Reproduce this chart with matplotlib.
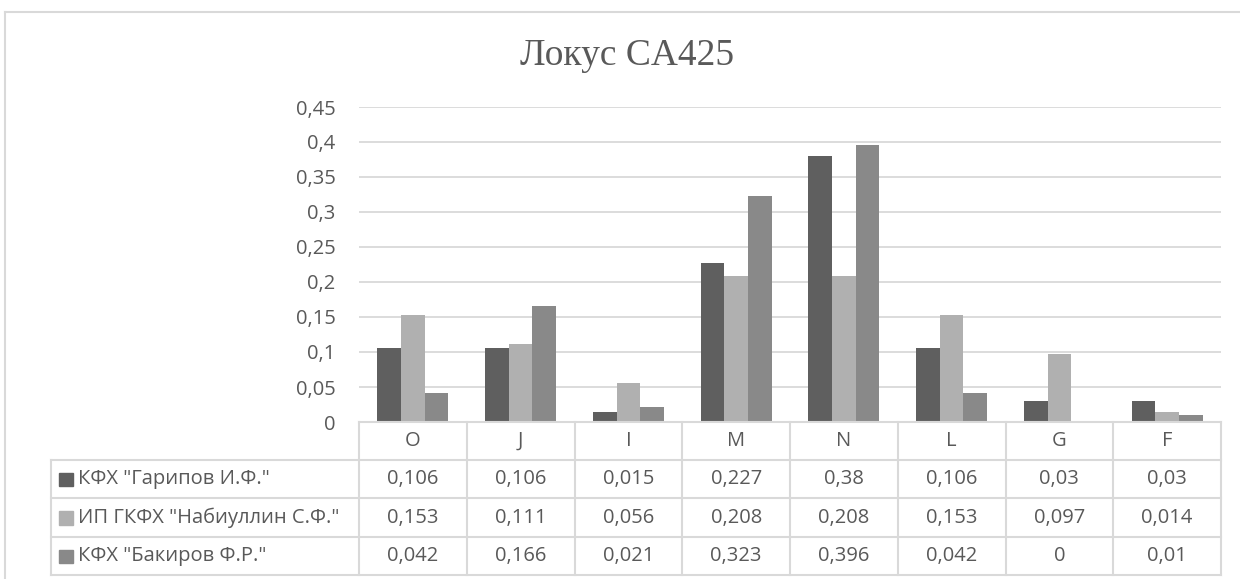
import matplotlib
matplotlib.use("Agg")
import matplotlib.pyplot as plt
import matplotlib.transforms as mtransforms
from matplotlib.lines import Line2D
from matplotlib.patches import Rectangle
from matplotlib.ticker import FuncFormatter, MultipleLocator

# --- data -------------------------------------------------------------
title = "Локус CA425"
categories = ["O", "J", "I", "M", "N", "L", "G", "F"]
series_names = [
    'КФХ "Гарипов И.Ф."',
    'ИП ГКФХ "Набиуллин С.Ф."',
    'КФХ "Бакиров Ф.Р."',
]
garipov = [0.106, 0.106, 0.015, 0.227, 0.38, 0.106, 0.03, 0.03]
nabiullin = [0.153, 0.111, 0.056, 0.208, 0.208, 0.153, 0.097, 0.014]
bakirov = [0.042, 0.166, 0.021, 0.323, 0.396, 0.042, 0.0, 0.01]
series_values = [garipov, nabiullin, bakirov]
series_colors = ["#5f5f5f", "#b0b0b0", "#898989"]

# --- style ------------------------------------------------------------
W, H = 1240, 579
TEXT = "#595959"
LINE = "#d9d9d9"
FONT = ["Open Sans", "DejaVu Sans"]
FS = 14.5
plt.rcParams["font.family"] = FONT


def fx(px):
    return px / W


def fy(py):
    return 1 - py / H


def comma(v):
    return f"{round(v, 3):g}".replace(".", ",")


fig = plt.figure(figsize=(W / 100, H / 100), dpi=100)

# chart frame
fig.add_artist(Line2D([fx(5), fx(5)], [fy(12), fy(H + 5)], color=LINE, lw=1.5,
                      transform=fig.transFigure))
fig.add_artist(Line2D([fx(5), fx(W + 5)], [fy(12), fy(12)], color=LINE, lw=1.5,
                      transform=fig.transFigure))

# plot area
left, right, top, bottom = 359, 1221, 107, 422
ax = fig.add_axes([fx(left), fy(bottom), fx(right - left), (bottom - top) / H])
n = len(categories)
ax.set_xlim(-0.5, n - 0.5)
ax.set_ylim(0, 0.45)
ax.yaxis.set_major_locator(MultipleLocator(0.05))
ax.yaxis.set_major_formatter(FuncFormatter(lambda v, _: comma(v)))
ax.tick_params(axis="y", length=0, pad=17, labelsize=FS, labelcolor=TEXT)
ax.set_xticks([])
ax.grid(axis="y", color=LINE, lw=1.3)
ax.set_axisbelow(True)
for s in ax.spines.values():
    s.set_visible(False)

bw = 0.22
xs = list(range(n))
for k, (vals, col) in enumerate(zip(series_values, series_colors)):
    ax.bar([x + (k - 1) * bw for x in xs], vals, width=bw, color=col, zorder=3)

fig.text(fx(627), fy(56), title, ha="center", va="center", fontsize=27,
         color=TEXT, family="Liberation Serif")

# --- data table below the axis ----------------------------------------
tr = mtransforms.blended_transform_factory(ax.transData, fig.transFigure)
row_edges = [422, 460, 498, 537, 575]
table_left = 51

# horizontal rules
fig.add_artist(Line2D([fx(left), fx(right)], [fy(row_edges[0])] * 2, color=LINE,
                      lw=1.5, transform=fig.transFigure))
for yy in row_edges[1:]:
    fig.add_artist(Line2D([fx(table_left), fx(right)], [fy(yy)] * 2, color=LINE,
                          lw=1.5, transform=fig.transFigure))
# vertical rules
for i in range(n + 1):
    ax.add_line(Line2D([i - 0.5, i - 0.5], [fy(row_edges[0]), fy(row_edges[-1])],
                       color=LINE, lw=1.5, transform=tr, clip_on=False))
fig.add_artist(Line2D([fx(table_left)] * 2, [fy(row_edges[1]), fy(row_edges[-1])],
                      color=LINE, lw=1.5, transform=fig.transFigure))

# header with category names
for i, c in enumerate(categories):
    ax.text(i, fy((row_edges[0] + row_edges[1]) / 2), c, transform=tr, ha="center",
            va="center", fontsize=FS, color=TEXT, clip_on=False)

# series rows
for r, (name, vals, col) in enumerate(zip(series_names, series_values, series_colors)):
    yc = (row_edges[r + 1] + row_edges[r + 2]) / 2
    fig.add_artist(Rectangle((fx(59), fy(yc + 7)), fx(13.5), 13.5 / H,
                             color=col, transform=fig.transFigure))
    fig.text(fx(78), fy(yc), name, ha="left", va="center", fontsize=FS, color=TEXT)
    for i, v in enumerate(vals):
        ax.text(i, fy(yc), comma(v), transform=tr, ha="center", va="center",
                fontsize=FS, color=TEXT, clip_on=False)

fig.savefig("out.png", dpi=100, facecolor="white")
